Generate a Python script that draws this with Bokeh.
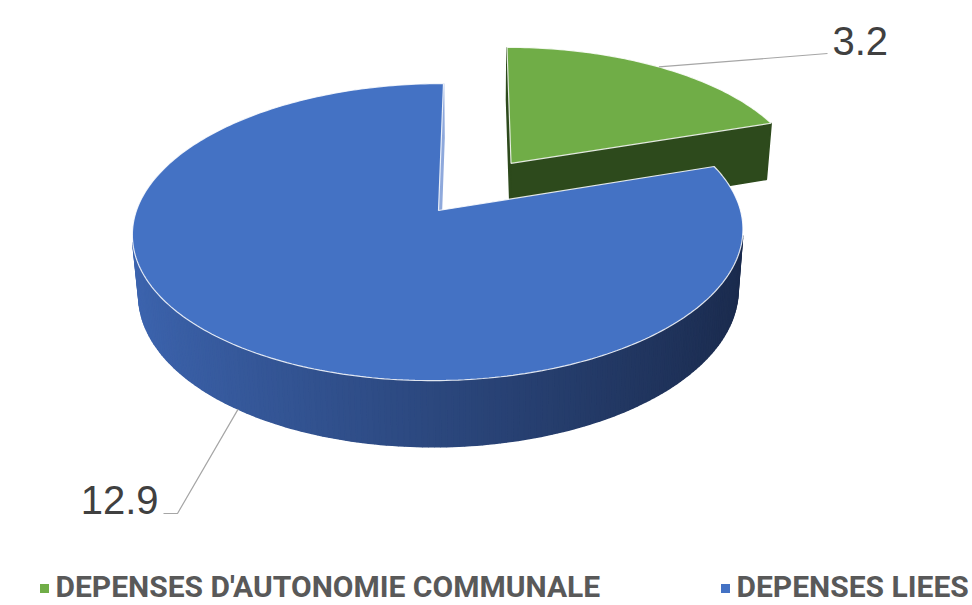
import math
from bokeh.plotting import figure
from bokeh.models import Range1d, ColumnDataSource
from bokeh.core.properties import value
from bokeh.embed import file_html
from bokeh.resources import INLINE

# ---- data ----
categories = ["DEPENSES D'AUTONOMIE COMMUNALE", "DEPENSES LIEES"]
values = [3.2, 12.9]
labels = ["3.2", "12.9"]
top_colors = ["#70AD47", "#4472C4"]

# ---- 3D view parameters (style / layout) ----
SIN_T = 0.4815
COS_T = math.sqrt(1 - SIN_T ** 2)
DIST = 6.04
DEPTH = 0.23
CAMX = 0.13
K = 302.0
OX, OY = 438.0, 210.0
explode = [0.42, 0.0]


def proj(X, Y, Z):
    yc = Y * COS_T - Z * SIN_T
    d = DIST - (Y * SIN_T + Z * COS_T)
    f = DIST / d
    sx = (X - CAMX) * f + CAMX
    sy = yc * f
    return OX + K * sx, OY - K * sy


CAM = (CAMX, DIST * SIN_T, DIST * COS_T)


def visible(normal, pt):
    v = (CAM[0] - pt[0], CAM[1] - pt[1], CAM[2] - pt[2])
    return normal[0] * v[0] + normal[1] * v[1] + normal[2] * v[2] > 0


def depth_of(pt):
    return -(pt[1] * SIN_T + pt[2] * COS_T)


def hexlerp(c1, c2, t):
    a = [int(c1[i:i + 2], 16) for i in (1, 3, 5)]
    b = [int(c2[i:i + 2], 16) for i in (1, 3, 5)]
    return "#%02x%02x%02x" % tuple(int(round(a[k] + (b[k] - a[k]) * t)) for k in range(3))


side_left = ["#2f4d1f", "#3d65b0"]
side_right = ["#2a4419", "#1a2a4c"]
radial_col = ["#2d4a1c", "#8fa9dc"]

total = sum(values)
start = 90.0
slices = []
for i, v in enumerate(values):
    sweep = v / total * 360.0
    a0, a1 = start, start - sweep
    start = a1
    mid = math.radians((a0 + a1) / 2)
    ox, oz = explode[i] * math.cos(mid), -explode[i] * math.sin(mid)
    slices.append((a0, a1, mid, ox, oz))


def pt(sl, ang_deg, r, Y):
    a = math.radians(ang_deg)
    return (sl[3] + r * math.cos(a), Y, sl[4] - r * math.sin(a))


p = figure(width=972, height=605, x_range=Range1d(0, 972), y_range=Range1d(605, 0),
           output_backend="svg", toolbar_location=None, min_border=0)
p.axis.visible = False
p.grid.visible = False
p.outline_line_color = None
p.background_fill_color = "white"

for i in [0, 1]:
    sl = slices[i]
    a0, a1 = sl[0], sl[1]
    n = max(2, int(abs(a0 - a1) / 1.0))
    angs = [a0 + (a1 - a0) * j / n for j in range(n + 1)]
    faces = []
    base_top, base_bot = [], []
    # outer wall facets
    for j in range(n):
        t0, t1 = angs[j], angs[j + 1]
        tm = math.radians((t0 + t1) / 2)
        c = pt(sl, (t0 + t1) / 2, 1.0, -DEPTH / 2)
        nrm = (math.cos(tm), 0.0, -math.sin(tm))
        if visible(nrm, c):
            quad = [pt(sl, t0, 1, 0), pt(sl, t1, 1, 0), pt(sl, t1, 1, -DEPTH), pt(sl, t0, 1, -DEPTH)]
            tt = (math.cos(tm) + 1) / 2
            faces.append((depth_of(c), quad, hexlerp(side_left[i], side_right[i], tt)))
            base_top += [proj(*quad[0]), proj(*quad[1])]
            base_bot += [proj(*quad[3]), proj(*quad[2])]
    # base underlay for the outer wall (hides seams between facets)
    if base_top:
        poly = base_top + base_bot[::-1]
        p.patch([q[0] for q in poly], [q[1] for q in poly],
                fill_color=hexlerp(side_left[i], side_right[i], 0.5), line_color=None)
    # radial faces
    for ang, sgn in [(a0, 0), (a1, 1)]:
        a = math.radians(ang)
        nrm = (-math.sin(a), 0.0, -math.cos(a)) if sgn == 0 else (math.sin(a), 0.0, math.cos(a))
        c = pt(sl, ang, 0.5, -DEPTH / 2)
        if visible(nrm, c):
            quad = [pt(sl, ang, 0, 0), pt(sl, ang, 1, 0), pt(sl, ang, 1, -DEPTH), pt(sl, ang, 0, -DEPTH)]
            faces.append((depth_of(c), quad, radial_col[i]))
    faces.sort(key=lambda f: -f[0])
    xs, ys, cols = [], [], []
    for _, quad, col in faces:
        pts = [proj(*q) for q in quad]
        xs.append([q[0] for q in pts])
        ys.append([q[1] for q in pts])
        cols.append(col)
    src = ColumnDataSource(dict(xs=xs, ys=ys, c=cols))
    p.patches("xs", "ys", source=src, fill_color="c", line_color="c", line_width=1.6)
    # top face
    top = [proj(*pt(sl, 0, 0, 0))] + [proj(*pt(sl, a, 1, 0)) for a in angs]
    p.patch([q[0] for q in top], [q[1] for q in top], fill_color=top_colors[i],
            line_color="#ffffff", line_alpha=0.85, line_width=1.2)

# ---- data labels with leader lines ----
label_pos = [(832, 40), (158, 499)]
sl = slices[0]
s0 = proj(*pt(sl, math.degrees(sl[2]), 1.0, 0))
p.line([s0[0], 827], [s0[1], 53], line_color="#a6a6a6", line_width=1.2)
sl = slices[1]
s1 = proj(*pt(sl, math.degrees(sl[2]), 1.0, -DEPTH))
p.line([s1[0], 177, 163], [s1[1], 513, 513], line_color="#a6a6a6", line_width=1.2)

p.text(x=[label_pos[0][0]], y=[label_pos[0][1]], text=[labels[0]], text_align="left",
       text_baseline="middle", text_font=value("Liberation Sans"), text_font_size="40px",
       text_color="#404040")
p.text(x=[label_pos[1][0]], y=[label_pos[1][1]], text=[labels[1]], text_align="right",
       text_baseline="middle", text_font=value("Liberation Sans"), text_font_size="40px",
       text_color="#404040")

# ---- legend (manual) ----
leg_x = [44, 725]
leg_y = 588
p.scatter(x=leg_x, y=[leg_y, leg_y], marker="square", size=9, fill_color=top_colors,
          line_color=None)
p.text(x=[x + 11 for x in leg_x], y=[leg_y - 2, leg_y - 2], text=categories, text_align="left",
       text_baseline="middle", text_font=value("Roboto"), text_font_style="bold",
       text_font_size="30px", text_color="#595959")

open("out.html", "w").write(file_html(p, INLINE))
